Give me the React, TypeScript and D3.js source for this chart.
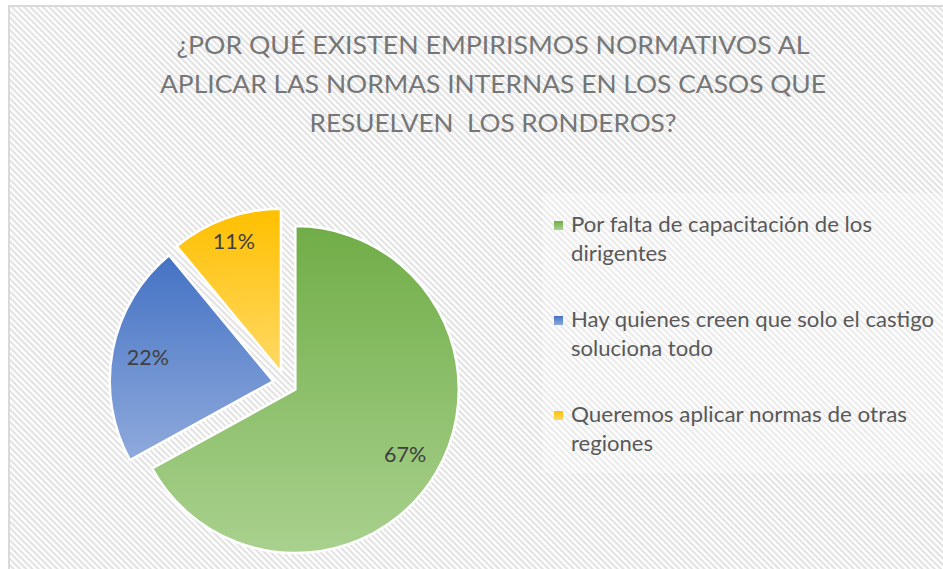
import * as d3 from "d3";

const W = 943;
const H = 569;

// chart data
const titleLines = [
  "¿POR QUÉ EXISTEN EMPIRISMOS NORMATIVOS AL",
  "APLICAR LAS NORMAS INTERNAS EN LOS CASOS QUE",
  "RESUELVEN  LOS RONDEROS?",
];
const categories = [
  ["Por falta de capacitación de los", "dirigentes"],
  ["Hay quienes creen que solo el castigo", "soluciona todo"],
  ["Queremos aplicar normas de otras", "regiones"],
];
const values = [67, 22, 11];
const labels = ["67%", "22%", "11%"];

const gradients = [
  ["#70ad47", "#a9d18e"],
  ["#4472c4", "#8faadc"],
  ["#ffc000", "#ffd966"],
];

const CENTER = { x: 285, y: 383.5 };
const RADIUS = 163.5;
const EXPLODE = 12;
const FONT = "Lato, 'Open Sans', sans-serif";

// measured widths so the text fills the same space as in the original
const titleWidths = [633, 666, 367];
const legendWidths = [
  [301, 96],
  [363, 142],
  [336, 82],
];

export default function App() {
  const pie = d3
    .pie<number>()
    .sort(null)
    .startAngle(0)
    .endAngle(2 * Math.PI);
  const arcs = pie(values);
  const arcGen = d3.arc<d3.PieArcDatum<number>>().innerRadius(0).outerRadius(RADIUS);

  return (
    <svg
      width={W}
      height={H}
      style={{ position: "fixed", left: 0, top: 0, background: "#fff" }}
    >
      <defs>
        <pattern
          id="hatch"
          width={4.4}
          height={4.4}
          patternUnits="userSpaceOnUse"
          patternTransform="rotate(45)"
        >
          <rect width={4.4} height={4.4} fill="#ffffff" />
          <rect width={4.4} height={2.1} fill="#e2e2e2" />
        </pattern>
        {gradients.map((g, i) => (
          <linearGradient key={i} id={`grad${i}`} x1="0" y1="0" x2="0" y2="1">
            <stop offset="0%" stopColor={g[0]} />
            <stop offset="100%" stopColor={g[1]} />
          </linearGradient>
        ))}
      </defs>

      {/* chart area */}
      <rect x={9} y={6} width={W + 20} height={H + 20} fill="url(#hatch)" stroke="#d9d9d9" strokeWidth={2} />

      {/* title */}
      {titleLines.map((t, i) => (
        <text
          key={i}
          x={493}
          y={54 + i * 39}
          textAnchor="middle"
          fontFamily={FONT}
          fontSize={24.5}
          fill="#767676"
          textLength={titleWidths[i]}
          lengthAdjust="spacingAndGlyphs"
          style={{ whiteSpace: "pre" }}
        >
          {t}
        </text>
      ))}

      {/* pie */}
      {arcs.map((a, i) => {
        const mid = (a.startAngle + a.endAngle) / 2;
        const dx = Math.sin(mid) * EXPLODE;
        const dy = -Math.cos(mid) * EXPLODE;
        return (
          <path
            key={i}
            d={arcGen(a) || ""}
            transform={`translate(${CENTER.x + dx},${CENTER.y + dy})`}
            fill={`url(#grad${i})`}
            stroke="#ffffff"
            strokeWidth={2.5}
            strokeLinejoin="miter"
          />
        );
      })}

      {/* data labels */}
      {arcs.map((a, i) => {
        const mid = (a.startAngle + a.endAngle) / 2;
        // narrow slice label sits further out (best fit)
        const r = EXPLODE + RADIUS * (a.value < 15 ? 0.85 : 0.78);
        const x = CENTER.x + Math.sin(mid) * r;
        const y = CENTER.y - Math.cos(mid) * r;
        return (
          <text
            key={i}
            x={x}
            y={y + 7.5}
            textAnchor="middle"
            fontFamily={FONT}
            fontSize={21.5}
            fill="#404040"
          >
            {labels[i]}
          </text>
        );
      })}

      {/* legend */}
      <rect x={543} y={193} width={420} height={280} fill="#ffffff" opacity={0.3} />
      {categories.map((lines, i) => (
        <g key={i} transform={`translate(554,${232 + i * 95})`}>
          <rect x={0} y={-11} width={9} height={9} fill={`url(#grad${i})`} />
          {lines.map((l, j) => (
            <text
              key={j}
              x={17}
              y={j * 29}
              fontFamily={FONT}
              fontSize={21}
              fill="#595959"
              textLength={legendWidths[i][j]}
              lengthAdjust="spacingAndGlyphs"
            >
              {l}
            </text>
          ))}
        </g>
      ))}
    </svg>
  );
}
